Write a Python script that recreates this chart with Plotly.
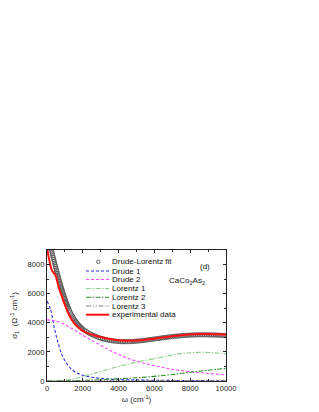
import plotly.graph_objects as go

# ---------------- data ----------------
fit_w = [0, 25, 50, 75, 100, 125, 150, 175, 200, 225, 250, 275, 300, 325, 350, 375, 400, 425, 450, 475,
         500, 525, 550, 575, 600, 625, 650, 675, 700, 725, 750, 775, 800, 825, 850, 875, 900, 925, 950, 975,
         1000, 1025, 1050, 1075, 1100, 1125, 1150, 1175, 1200, 1250, 1300, 1350, 1400, 1450, 1500, 1550,
         1600, 1650, 1700, 1750, 1800, 1850, 1900, 1950, 2000,
         2100, 2200, 2300, 2400, 2500, 2600, 2700, 2800, 2900, 3000, 3100, 3200, 3300, 3400, 3500, 3600,
         3700, 3800, 3900, 4000, 4100, 4200, 4300, 4400, 4500, 4600, 4700, 4800, 4900, 5000, 5100, 5200,
         5300, 5400, 5500, 5600, 5700, 5800, 5900, 6000, 6100, 6200, 6300, 6400, 6500, 6600, 6700, 6800,
         6900, 7000, 7100, 7200, 7300, 7400, 7500, 7600, 7700, 7800, 7900, 8000, 8100, 8200, 8300, 8400,
         8500, 8600, 8700, 8800, 8900, 9000, 9100, 9200, 9300, 9400, 9500, 9600, 9700, 9800, 9900, 10000]
fit_s = [10400, 10250, 10100, 9950, 9800, 9660, 9520, 9380, 9250, 9120, 8990, 8860, 8730, 8600, 8480,
         8350, 8230, 8110, 7990, 7870, 7750, 7630, 7520, 7400, 7290, 7180, 7070, 6960, 6850, 6740, 6640,
         6530, 6430, 6330, 6230, 6130, 6030, 5930, 5840, 5750, 5660, 5570, 5480, 5390, 5310, 5230, 5150,
         5070, 5000, 4860, 4730, 4610, 4500, 4390, 4290, 4190,
         4100, 4020, 3940, 3870, 3800, 3740, 3680, 3620, 3570,
         3480, 3400, 3320, 3250, 3190, 3130, 3080, 3030, 2980, 2940, 2900, 2870, 2840, 2810, 2790, 2770,
         2750, 2740, 2730, 2720, 2710, 2700, 2700, 2700, 2700, 2700, 2710, 2720, 2730, 2740, 2750, 2760,
         2770, 2790, 2800, 2820, 2840, 2850, 2870, 2890, 2900, 2920, 2940, 2960, 2970, 2990, 3010, 3020,
         3040, 3050, 3070, 3080, 3090, 3100, 3110, 3120, 3130, 3140, 3150, 3150, 3160, 3160, 3170, 3170,
         3170, 3170, 3170, 3170, 3170, 3170, 3170, 3160, 3160, 3160, 3150, 3150, 3140, 3140, 3130, 3130]

exp_w = [0, 30, 80, 130, 180, 230, 280, 330, 380, 430, 480, 530, 580, 630, 680, 730, 780, 850, 900, 1000,
         1100, 1200, 1300, 1400, 1500, 1600, 1700, 1800, 1900, 2000, 2200, 2400, 2600, 2800, 3000, 3250,
         3500, 3750, 4000, 4250, 4500, 4750, 5000, 5250, 5500, 5750, 6000, 6250, 6500, 6750, 7000, 7250,
         7500, 7750, 8000, 8250, 8500, 8750, 9000, 9250, 9500, 9750, 10000]
exp_s = [9600, 9000, 8600, 8300, 8000, 7750, 7600, 7500, 7400, 7350, 7250, 7050, 6800, 6550, 6350, 6150,
         5980, 5750, 5550, 5230, 4900, 4620, 4380, 4170, 3990, 3850, 3730, 3620, 3530, 3450, 3320, 3220,
         3150, 3080, 3020, 2950, 2890, 2840, 2800, 2780, 2770, 2770, 2780, 2800, 2830, 2870, 2910, 2950,
         2990, 3030, 3070, 3110, 3150, 3180, 3200, 3220, 3230, 3230, 3230, 3220, 3210, 3200, 3190]

d1_w = [0, 200, 400, 600, 800, 1000, 1300, 1600, 2000, 2500, 3000, 4000, 5000, 6000, 8000, 10000]
d1_s = [5500, 4900, 3700, 2700, 1900, 1400, 900, 600, 400, 260, 180, 100, 70, 50, 30, 20]

d2_w = [0, 500, 1000, 1500, 2000, 2500, 3000, 3500, 4000, 4500, 5000, 6000, 7000, 8000, 9000, 10000]
d2_s = [4200, 4120, 3870, 3520, 3150, 2800, 2450, 2120, 1820, 1570, 1360, 1050, 810, 640, 520, 420]

l1_w = [0, 500, 1000, 1500, 2000, 2500, 3000, 3500, 4000, 4500, 5000, 5500, 6000, 6500, 7000, 7500,
        8000, 8500, 9000, 9500, 10000]
l1_s = [0, 15, 50, 150, 300, 480, 650, 830, 1000, 1150, 1300, 1420, 1530, 1660, 1780, 1880, 1940, 1970,
        1960, 1920, 1870]

l2_w = [0, 1000, 2000, 3000, 4000, 5000, 6000, 7000, 8000, 9000, 10000]
l2_s = [0, 10, 40, 90, 150, 220, 320, 450, 600, 740, 870]

l3_w = [0, 1000, 2000, 3000, 4000, 5000, 6000, 7000, 8000, 9000, 10000]
l3_s = [0, 5, 10, 15, 20, 25, 30, 35, 40, 45, 50]

x_ticks = [0, 2000, 4000, 6000, 8000, 10000]
y_ticks = [0, 2000, 4000, 6000, 8000]

legend_names = ["Drude-Lorentz fit", "Drude 1", "Drude 2", "Lorentz 1", "Lorentz 2", "Lorentz 3",
                "experimental data"]

# ---------------- styles ----------------
FONT = "Liberation Sans, Arial, sans-serif"
C_FIT = "#555555"
C_D1 = "#2a2ae6"
C_D2 = "#ff44ff"
C_L1 = "#8ccc8c"
C_L2 = "#2e8b2e"
C_L3 = "#8a8a8a"
C_EXP = "#ff1010"
DASH_D = "3px,2px"
DASH_L = "5px,1.5px,1.5px,1.5px"
DASH_L3 = "5px,1.5px,1.5px,1.5px,1.5px,1.5px"

fig = go.Figure()

line_specs = [
    (d1_w, d1_s, C_D1, DASH_D, 1.1),
    (d2_w, d2_s, C_D2, DASH_D, 1.1),
    (l1_w, l1_s, C_L1, DASH_L, 1.1),
    (l2_w, l2_s, C_L2, DASH_L, 1.1),
    (l3_w, l3_s, C_L3, DASH_L3, 1.0),
]
for w, s, c, d, lw in line_specs:
    fig.add_trace(go.Scatter(x=w, y=s, mode="lines", line=dict(color=c, dash=d, width=lw, shape="spline"),
                             showlegend=False))

fig.add_trace(go.Scatter(x=fit_w, y=fit_s, mode="markers",
                         marker=dict(symbol="circle-open", size=4.2, color=C_FIT, line=dict(width=0.9, color=C_FIT)),
                         showlegend=False))
fig.add_trace(go.Scatter(x=exp_w, y=exp_s, mode="lines", line=dict(color=C_EXP, width=2.0, shape="spline"),
                         showlegend=False))

# ---------------- layout ----------------
OFF = 8  # page body margin
W, H = 303, 396
L, T = 47 - OFF, 250 - OFF
R = W - (226 - OFF)
B = H - (381 - OFF)
pw, ph = W - L - R, H - T - B


def px(xp):
    return (xp - OFF - L) / pw


def py(yp):
    return (H - B - (yp - OFF)) / ph


axis_common = dict(showline=True, linecolor="#222", linewidth=1, mirror="allticks", automargin=False,
                   ticks="inside", ticklen=3, tickcolor="#222", showgrid=False, zeroline=False,
                   tickfont=dict(family=FONT, size=7.6, color="#222"))

fig.update_layout(
    width=W, height=H, margin=dict(l=L, r=R, t=T, b=B, autoexpand=False),
    paper_bgcolor="white", plot_bgcolor="white",
    showlegend=False,
    xaxis=dict(range=[0, 10000], tickvals=x_ticks, ticktext=[str(v) for v in x_ticks],
               minor=dict(ticks="inside", dtick=1000, ticklen=2, tickcolor="#222"),
               title=dict(text="ω (cm<sup>-1</sup>)", font=dict(family=FONT, size=8, color="#222"), standoff=6),
               **axis_common),
    yaxis=dict(range=[0, 9000], tickvals=y_ticks, ticktext=[str(v) for v in y_ticks],
               minor=dict(ticks="inside", dtick=1000, ticklen=2, tickcolor="#222"),
               title=dict(text="σ<sub>1</sub>  (Ω<sup>-1</sup> cm<sup>-1</sup>)",
                          font=dict(family=FONT, size=8, color="#222"), standoff=8),
               **axis_common),
)

# manual legend (compact)
row_y = [261.8, 271.0, 279.5, 288.5, 297.3, 306.0, 314.7]
sym_x0, sym_x1, text_x = 86, 109, 110
legend_styles = [None, (C_D1, "3px,2px"), (C_D2, "3px,2px"), (C_L1, "5px,1.5px,1.5px,1.5px"),
                 (C_L2, "5px,1.5px,1.5px,1.5px"), (C_L3, "5px,1.5px,1.5px,1.5px,1.5px,1.5px"),
                 (C_EXP, "solid")]
for name, yy, st in zip(legend_names, row_y, legend_styles):
    if st is None:
        fig.add_shape(type="circle", xref="paper", yref="paper",
                      x0=px(96.5), x1=px(100), y0=py(yy + 1.75), y1=py(yy - 1.75),
                      line=dict(color=C_FIT, width=0.9))
    else:
        c, d = st
        fig.add_shape(type="line", xref="paper", yref="paper",
                      x0=px(sym_x0), x1=px(sym_x1), y0=py(yy), y1=py(yy),
                      line=dict(color=c, dash=d, width=2 if d == "solid" else 1))
    fig.add_annotation(xref="paper", yref="paper", x=px(text_x), y=py(yy), text=name,
                       showarrow=False, xanchor="left", yanchor="middle",
                       font=dict(family=FONT, size=8, color="#111"))

fig.add_annotation(xref="paper", yref="paper", x=px(205), y=py(266), text="(d)", showarrow=False,
                   xanchor="center", yanchor="middle", font=dict(family=FONT, size=8, color="#111"))
fig.add_annotation(xref="paper", yref="paper", x=px(187), y=py(281),
                   text="CaCo<sub>2</sub>As<sub>2</sub>", showarrow=False,
                   xanchor="center", yanchor="middle", font=dict(family=FONT, size=8, color="#111"))

fig.write_html("out.html")
